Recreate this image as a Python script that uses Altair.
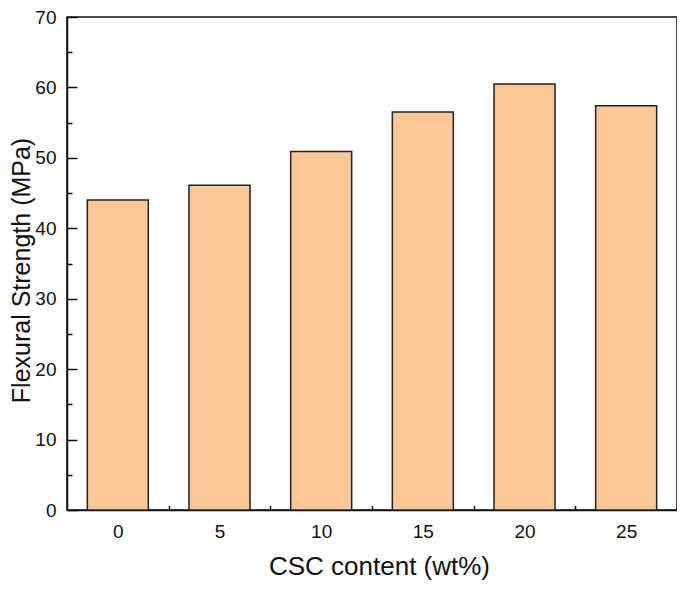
import altair as alt
import pandas as pd

content = [0, 5, 10, 15, 20, 25]
strength = [44.0, 46.1, 50.9, 56.5, 60.5, 57.4]
y_ticks = [0, 5, 10, 15, 20, 25, 30, 35, 40, 45, 50, 55, 60, 65, 70]
x_ticks = [0, 2.5, 5, 7.5, 10, 12.5, 15, 17.5, 20, 22.5, 25]

df = pd.DataFrame({"content": content, "strength": strength})

FONT = "Liberation Sans"

bars = alt.Chart(df).transform_calculate(
    x0="datum.content - 1.5", x1="datum.content + 1.5"
).mark_bar(
    fill="#F9C896", stroke="#222222", strokeWidth=1.5
).encode(
    x=alt.X("x0:Q",
            scale=alt.Scale(domain=[-2.5, 27.5], nice=False, zero=False),
            axis=alt.Axis(
                values=x_ticks,
                labelExpr="datum.value % 5 === 0 ? datum.label : ''",
                tickSize={"expr": "datum.value % 5 === 0 ? -9 : -4.5"},
                labelPadding=21,
                title="CSC content (wt%)",
                titleFontSize=26,
                titleX=312,
                titleY=64,
                titleBaseline="alphabetic",
                titleAlign="center",
            )),
    x2="x1:Q",
    y=alt.Y("strength:Q",
            scale=alt.Scale(domain=[0, 70], nice=False),
            axis=alt.Axis(
                values=y_ticks,
                labelExpr="datum.value % 10 === 0 ? datum.label : ''",
                tickSize={"expr": "datum.value % 10 === 0 ? -10 : -5"},
                labelPadding=21,
                title="Flexural Strength (MPa)",
                titleFontSize=25,
                titleAngle=270,
                titleX=-46,
                titleY=253,
                titleBaseline="middle",
                titleAlign="center",
            )),
    y2=alt.datum(0),
)

chart = bars.properties(
    width=610, height=493,
    autosize=alt.AutoSizeParams(type="none"),
    padding={"left": 59, "top": 9, "right": 0, "bottom": 71},
).configure_view(
    stroke="#111111", strokeWidth=1.5
).configure_axis(
    domainColor="#111111", domainWidth=1.5,
    tickColor="#111111", tickWidth=1.5,
    labelFont=FONT, labelFontSize=19, labelColor="#111111",
    titleFont=FONT, titleFontWeight="normal", titleColor="#111111",
    grid=False,
)

chart.save("out.html", embed_options={"renderer": "svg", "actions": False})
